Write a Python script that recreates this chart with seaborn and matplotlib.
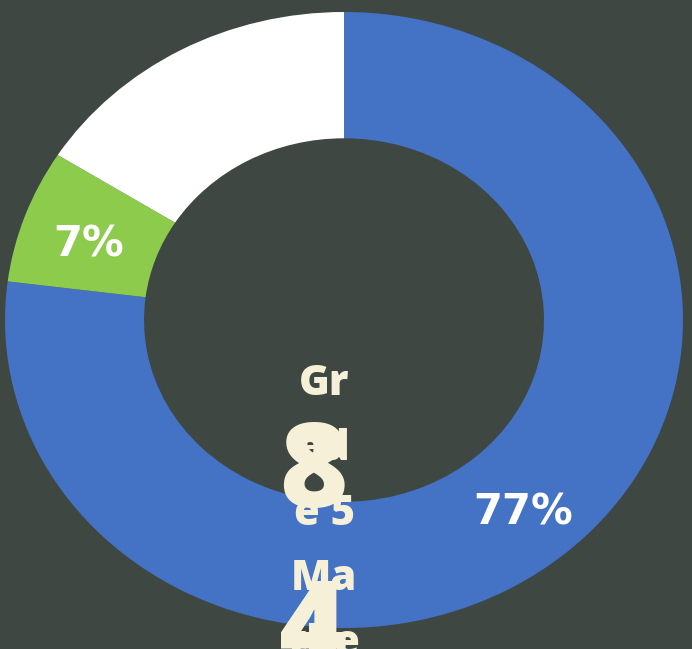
import matplotlib
matplotlib.use("Agg")
import matplotlib.pyplot as plt
import seaborn as sns

# Data
categories = ["Proficient", "Approaching", "Below"]
values = [77, 7, 16]
colors = ["#4472C4", "#8DCB4C", "#FFFFFF"]
title_lines = ["Gr", "ad", "e 5", "Ma", "the"]
big_lines = ["8", "4"]

sns.set_theme(style="white")
plt.rcParams["font.family"] = ["DejaVu Sans"]

W, H = 692, 649
fig = plt.figure(figsize=(W / 100, H / 100), dpi=100)
bg = "#3F4743"
fig.patch.set_facecolor(bg)

ax = fig.add_axes([5 / W, (H - 628) / H, 678 / W, 616 / H])
ax.set_facecolor(bg)
wedges, texts, autotexts = ax.pie(
    values,
    colors=colors,
    startangle=90,
    counterclock=False,
    radius=1.0,
    autopct="%d%%",
    pctdistance=0.8,
    wedgeprops=dict(width=0.41, linewidth=0),
    textprops=dict(color="white", fontsize=30, fontweight="bold"),
)
for t in autotexts:
    x, y = t.get_position()
    t.set_position((x, y - 0.025))
ax.set_aspect("auto")
ax.set_xlim(-1, 1)
ax.set_ylim(-1, 1)
ax.axis("off")

cream = "#F6F0D8"
for i, line in enumerate(title_lines):
    y = 395 + i * 65
    fig.text(324 / W, 1 - y / H, line, ha="center", va="baseline",
             color=cream, fontsize=30, fontweight="heavy", family=["Open Sans", "DejaVu Sans"])
for i, line in enumerate(big_lines):
    y = 507 + i * 158
    fig.text(313 / W, 1 - y / H, line, ha="center", va="baseline",
             color=cream, fontsize=84, fontweight="heavy", family=["Open Sans", "DejaVu Sans"])

fig.savefig("out.png", dpi=100, facecolor=bg)
